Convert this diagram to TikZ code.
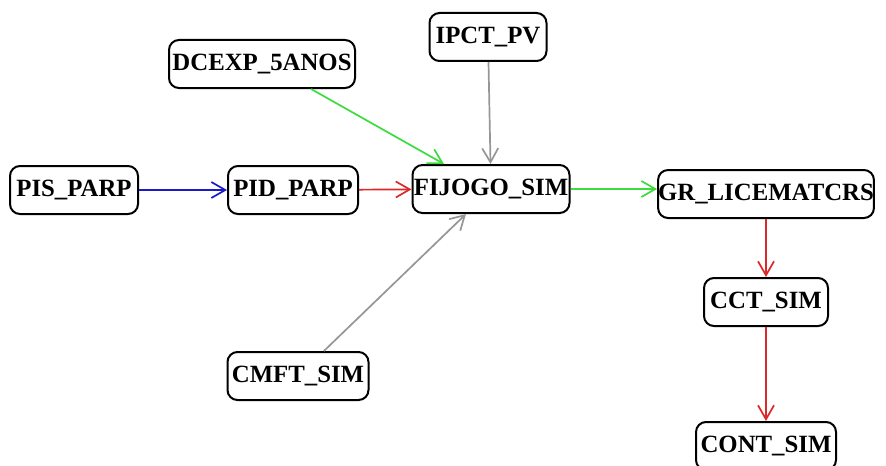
\documentclass[tikz,border=0pt]{standalone}
\usepackage{fontspec}
\setmainfont{Liberation Serif}
\usepackage{tikz}
\usetikzlibrary{arrows.meta}
\usepackage{xcolor}
\definecolor{EdgeBlue}{HTML}{1A1AC8}
\definecolor{EdgeRed}{HTML}{DC2828}
\definecolor{EdgeGreen}{HTML}{3CDC3C}
\definecolor{EdgeGray}{HTML}{969696}
\tikzset{
  varnode/.style={draw=black,line width=1pt,rounded corners=5pt,minimum height=24pt,inner sep=0pt,align=center,font=\fontsize{12.4}{13}\selectfont\bfseries},
  edge/.style={-{Straight Barb[length=7pt,width=8pt]},line width=0.85pt},
  blueedge/.style={edge,draw=EdgeBlue},
  rededge/.style={edge,draw=EdgeRed},
  greenedge/.style={edge,draw=EdgeGreen},
  grayedge/.style={edge,draw=EdgeGray}
}
\begin{document}
\begin{tikzpicture}[x=0.5pt,y=-0.5pt]
\useasboundingbox (0,0) rectangle (886,465);
% variables
\node[varnode,minimum width=64pt] (pis) at (74,190) {PIS\_PARP};
\node[varnode,minimum width=65pt] (pid) at (293,190) {PID\_PARP};
\node[varnode,minimum width=78.5pt] (fijogo) at (491,189) {FIJOGO\_SIM};
\node[varnode,minimum width=58.5pt] (ipct) at (488,37) {IPCT\_PV};
\node[varnode,minimum width=93pt] (dcexp) at (262,64) {DCEXP\_5ANOS};
\node[varnode,minimum width=107pt] (grlic) at (766,194) {GR\_LICEMATCRS};
\node[varnode,minimum width=62pt] (cct) at (766,302) {CCT\_SIM};
\node[varnode,minimum width=70pt] (cont) at (766,446) {CONT\_SIM};
\node[varnode,minimum width=70.5pt] (cmft) at (298,376) {CMFT\_SIM};
% influences
\draw[blueedge] (pis) -- (pid);
\draw[rededge] (pid) -- (fijogo);
\draw[greenedge] (dcexp.-27) -- (fijogo.152);
\draw[grayedge] (ipct) -- (fijogo);
\draw[grayedge] (cmft.44) -- (fijogo.-135);
\draw[greenedge] (fijogo) -- (fijogo -| grlic.west);
\draw[rededge] (grlic) -- (cct);
\draw[rededge] (cct) -- (cont);
\end{tikzpicture}
\end{document}
